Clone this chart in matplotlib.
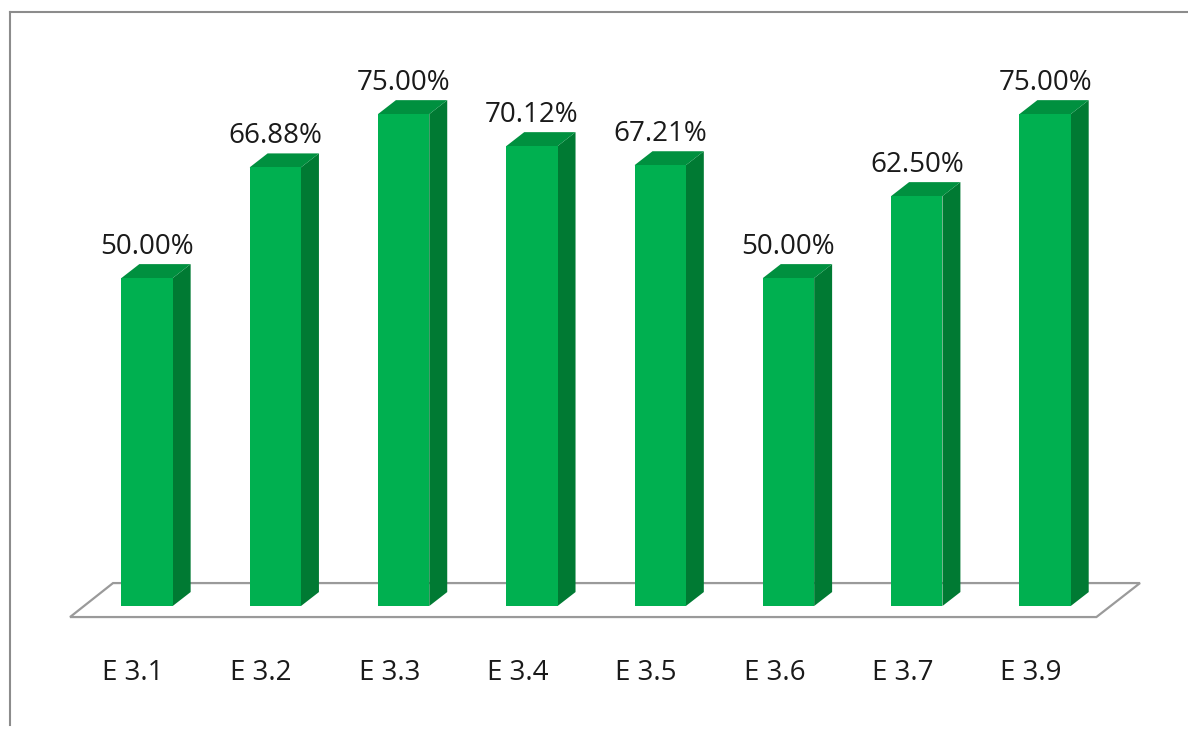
import numpy as np
import matplotlib
matplotlib.use("Agg")
import matplotlib.pyplot as plt
from matplotlib.patches import Polygon
from matplotlib.lines import Line2D

categories = ["E 3.1", "E 3.2", "E 3.3", "E 3.4", "E 3.5", "E 3.6", "E 3.7", "E 3.9"]
values = [50.00, 66.88, 75.00, 70.12, 67.21, 50.00, 62.50, 75.00]
value_labels = ["50.00%", "66.88%", "75.00%", "70.12%", "67.21%", "50.00%", "62.50%", "75.00%"]

FRONT = "#00B050"
TOP = "#00903F"
SIDE = "#007A33"
GREY = "#9a9a9a"

plt.rcParams["font.family"] = ["Open Sans", "DejaVu Sans"]

fig = plt.figure(figsize=(11.88, 7.29), dpi=100)
ax = fig.add_axes([0, 0, 1, 1])
ax.set_xlim(-1.146, 8.114)
ax.set_ylim(-18.75, 92.4)
ax.axis("off")

n = len(values)
x = np.arange(n)
w = 0.4
ddx, ddy = 0.14, 2.13  # bar depth

# floor
fy0, fy1 = -1.68, 3.5
floor = Polygon([(-0.60, fy0), (n - 0.60, fy0), (n - 0.26, fy1), (-0.265, fy1)],
                closed=True, facecolor="white", edgecolor=GREY, lw=1.6, zorder=1)
ax.add_patch(floor)

ax.bar(x, values, width=w, color=FRONT, zorder=3)
for xi, v in zip(x, values):
    l, r = xi - w / 2, xi + w / 2
    ax.add_patch(Polygon([(r, 0), (r + ddx, ddy), (r + ddx, v + ddy), (r, v)],
                         closed=True, facecolor=SIDE, edgecolor="none", zorder=2))
    ax.add_patch(Polygon([(l, v), (l + ddx, v + ddy), (r + ddx, v + ddy), (r, v)],
                         closed=True, facecolor=TOP, edgecolor="none", zorder=2))

for xi, v, lab in zip(x, values, value_labels):
    ax.text(xi, v + 4.8, lab, ha="center", va="center", fontsize=20, color="#1a1a1a")

for xi, cat in zip(x, categories):
    ax.text(xi - 0.11, -10.2, cat, ha="center", va="center", fontsize=20, color="#1a1a1a")

# outer frame
fig.add_artist(Line2D([0.0084, 1.0], [0.984, 0.984], transform=fig.transFigure, color="#8c8c8c", lw=1.5))
fig.add_artist(Line2D([0.0084, 0.0084], [0.984, 0.005], transform=fig.transFigure, color="#8c8c8c", lw=1.5))

fig.savefig("out.png", dpi=100)
